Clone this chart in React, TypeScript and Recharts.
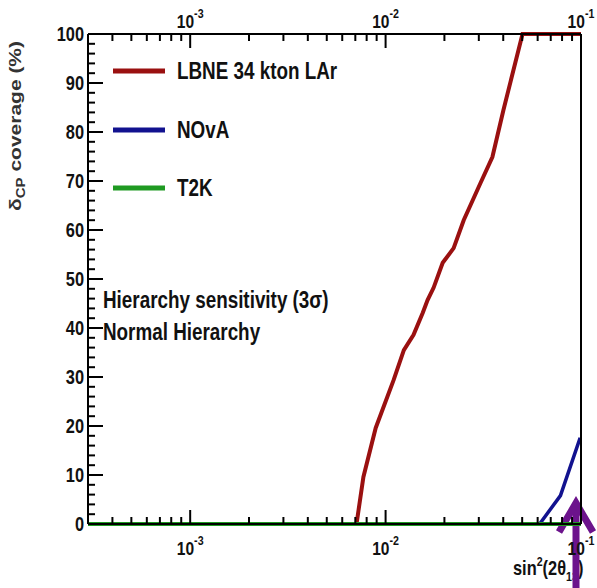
import React from 'react';
import { LineChart, Line, XAxis, YAxis, Customized } from 'recharts';

// ---- data ----
const lbneX = [0.0003, 0.0071, 0.0077, 0.0089, 0.011, 0.0124, 0.0139, 0.0155, 0.0164, 0.0176, 0.0196, 0.0223, 0.0251, 0.0306, 0.0352, 0.0401, 0.0502, 0.1];
const lbneY = [0, 0, 9.6, 19.6, 29.4, 35.5, 38.6, 43.1, 45.7, 48.2, 53.3, 56.3, 62.0, 69.6, 74.9, 84.5, 100, 100];
const novaX = [0.0003, 0.0614, 0.0785, 0.099];
const novaY = [0, 0, 5.8, 17.6];
const t2kX = [0.0003, 0.1];
const t2kY = [0, 0];

const xTicks = [
  0.0004, 0.0005, 0.0006, 0.0007, 0.0008, 0.0009, 0.001,
  0.002, 0.003, 0.004, 0.005, 0.006, 0.007, 0.008, 0.009, 0.01,
  0.02, 0.03, 0.04, 0.05, 0.06, 0.07, 0.08, 0.09, 0.1,
];
const yTicks = [0, 2, 4, 6, 8, 10, 12, 14, 16, 18, 20, 22, 24, 26, 28, 30, 32, 34, 36, 38, 40, 42, 44, 46, 48, 50, 52, 54, 56, 58, 60, 62, 64, 66, 68, 70, 72, 74, 76, 78, 80, 82, 84, 86, 88, 90, 92, 94, 96, 98, 100];
const seriesNames = ['LBNE 34 kton LAr', 'NOvA', 'T2K'];
const seriesColors = ['#9a1010', '#12128f', '#1f9a22'];

const toPoints = (xs: number[], ys: number[]) => xs.map((x, i) => ({ x, y: ys[i] }));
const lbne = toPoints(lbneX, lbneY);
const nova = toPoints(novaX, novaY);
const t2k = toPoints(t2kX, t2kY);

const FONT = '"Liberation Sans", Arial, Helvetica, sans-serif';
const SX = 0.82;
const INK = '#111';

function NText({ x, y, anchor = 'start', size, children, fill = INK, weight = 'bold' }: any) {
  return (
    <text
      transform={`translate(${x},${y}) scale(${SX},1)`}
      x={0}
      y={0}
      textAnchor={anchor}
      fontSize={size}
      fontFamily={FONT}
      fontWeight={weight}
      fill={fill}
    >
      {children}
    </text>
  );
}

const isDecade = (v: number) => Math.abs(Math.log10(v) - Math.round(Math.log10(v))) < 1e-6;

function BottomTick(props: any) {
  const { x, y, payload } = props;
  const v = payload.value;
  const major = isDecade(v);
  const len = major ? 14 : 7;
  return (
    <g>
      <line x1={x} y1={y} x2={x} y2={y - len} stroke="#000" strokeWidth={2} />
      {major && (
        <NText x={x} y={y + 31} anchor="middle" size={19}>
          10<tspan dy={-10} fontSize={13}>{String(Math.round(Math.log10(v)))}</tspan>
        </NText>
      )}
    </g>
  );
}

function TopTick(props: any) {
  const { x, y, payload } = props;
  const v = payload.value;
  const major = isDecade(v);
  const len = major ? 14 : 7;
  return (
    <g>
      <line x1={x} y1={y} x2={x} y2={y + len} stroke="#000" strokeWidth={2} />
      {major && (
        <NText x={x} y={y - 6} anchor="middle" size={19}>
          10<tspan dy={-10} fontSize={13}>{String(Math.round(Math.log10(v)))}</tspan>
        </NText>
      )}
    </g>
  );
}

function LeftTick(props: any) {
  const { x, y, payload } = props;
  const v = payload.value;
  const major = v % 10 === 0;
  const len = major ? 15 : 7;
  return (
    <g>
      <line x1={x} y1={y} x2={x + len} y2={y} stroke="#000" strokeWidth={2} />
      {major && (
        <NText x={x - 4} y={y + 7} anchor="end" size={20}>
          {String(v)}
        </NText>
      )}
    </g>
  );
}

function RightTick(props: any) {
  const { x, y, payload } = props;
  const v = payload.value;
  const major = v % 10 === 0;
  const len = major ? 15 : 7;
  return <line x1={x} y1={y} x2={x - len} y2={y} stroke="#000" strokeWidth={2} />;
}

function Overlay() {
  const legendY = [71, 130, 188];
  return (
    <g>
      {seriesNames.map((n, i) => (
        <g key={n}>
          <line x1={113} y1={legendY[i]} x2={165} y2={legendY[i]} stroke={seriesColors[i]} strokeWidth={5} />
          <NText x={177} y={legendY[i] + 8} size={23}>{n}</NText>
        </g>
      ))}
      <NText x={103} y={308} size={23}>Hierarchy sensitivity (3σ)</NText>
      <NText x={103} y={340} size={23}>Normal Hierarchy</NText>
      {/* y axis title */}
      <text
        transform={`translate(21,126) scale(${SX},1) rotate(-90)`}
        textAnchor="middle"
        fontSize={21}
        fontFamily={FONT}
        fontWeight="bold"
        fill="#333"
      >
        δ<tspan dy={5} fontSize={15}>CP</tspan><tspan dy={-5}> coverage (%)</tspan>
      </text>
      {/* x axis title */}
      <NText x={513} y={575} size={20}>
        sin<tspan dy={-9} fontSize={13}>2</tspan><tspan dy={9}>(2θ</tspan><tspan dy={6} fontSize={13}>13</tspan><tspan dy={-6}>)</tspan>
      </NText>
      {/* annotation arrow */}
      <line x1={576} y1={505} x2={576} y2={590} stroke="#6c138c" strokeWidth={7} />
      <polyline points="559,532 576,503 593,532" fill="none" stroke="#6c138c" strokeWidth={7} />
    </g>
  );
}

export default function App() {
  return (
    <div style={{ position: 'absolute', left: 0, top: 0, width: 597, height: 588, background: '#fff' }}>
      <LineChart width={597} height={588} margin={{ top: 33, right: 15, bottom: 63, left: 87 }}>
        <XAxis
          xAxisId="bottom"
          dataKey="x"
          type="number"
          scale="log"
          domain={[0.0003, 0.1]}
          allowDataOverflow
          ticks={xTicks}
          interval={0}
          height={1}
          tickSize={0}
          tickMargin={0}
          tickLine={false}
          axisLine={{ stroke: '#000', strokeWidth: 2 }}
          tick={<BottomTick />}
        />
        <XAxis
          xAxisId="top"
          orientation="top"
          dataKey="x"
          type="number"
          scale="log"
          domain={[0.0003, 0.1]}
          allowDataOverflow
          ticks={xTicks}
          interval={0}
          height={1}
          tickSize={0}
          tickMargin={0}
          tickLine={false}
          axisLine={{ stroke: '#000', strokeWidth: 2 }}
          tick={<TopTick />}
        />
        <YAxis
          yAxisId="left"
          type="number"
          domain={[0, 100]}
          ticks={yTicks}
          interval={0}
          width={1}
          tickSize={0}
          tickMargin={0}
          tickLine={false}
          axisLine={{ stroke: '#000', strokeWidth: 2 }}
          tick={<LeftTick />}
        />
        <YAxis
          yAxisId="right"
          orientation="right"
          type="number"
          domain={[0, 100]}
          ticks={yTicks}
          interval={0}
          width={1}
          tickSize={0}
          tickMargin={0}
          tickLine={false}
          axisLine={{ stroke: '#000', strokeWidth: 2 }}
          tick={<RightTick />}
        />
        <Line data={lbne} dataKey="y" xAxisId="bottom" yAxisId="left" stroke={seriesColors[0]} strokeWidth={4} dot={false} isAnimationActive={false} />
        <Line data={nova} dataKey="y" xAxisId="bottom" yAxisId="left" stroke={seriesColors[1]} strokeWidth={3.5} dot={false} isAnimationActive={false} />
        <Line data={t2k} dataKey="y" xAxisId="bottom" yAxisId="left" stroke={seriesColors[2]} strokeWidth={4} dot={false} isAnimationActive={false} />
        <Customized component={<Overlay />} />
      </LineChart>
    </div>
  );
}
